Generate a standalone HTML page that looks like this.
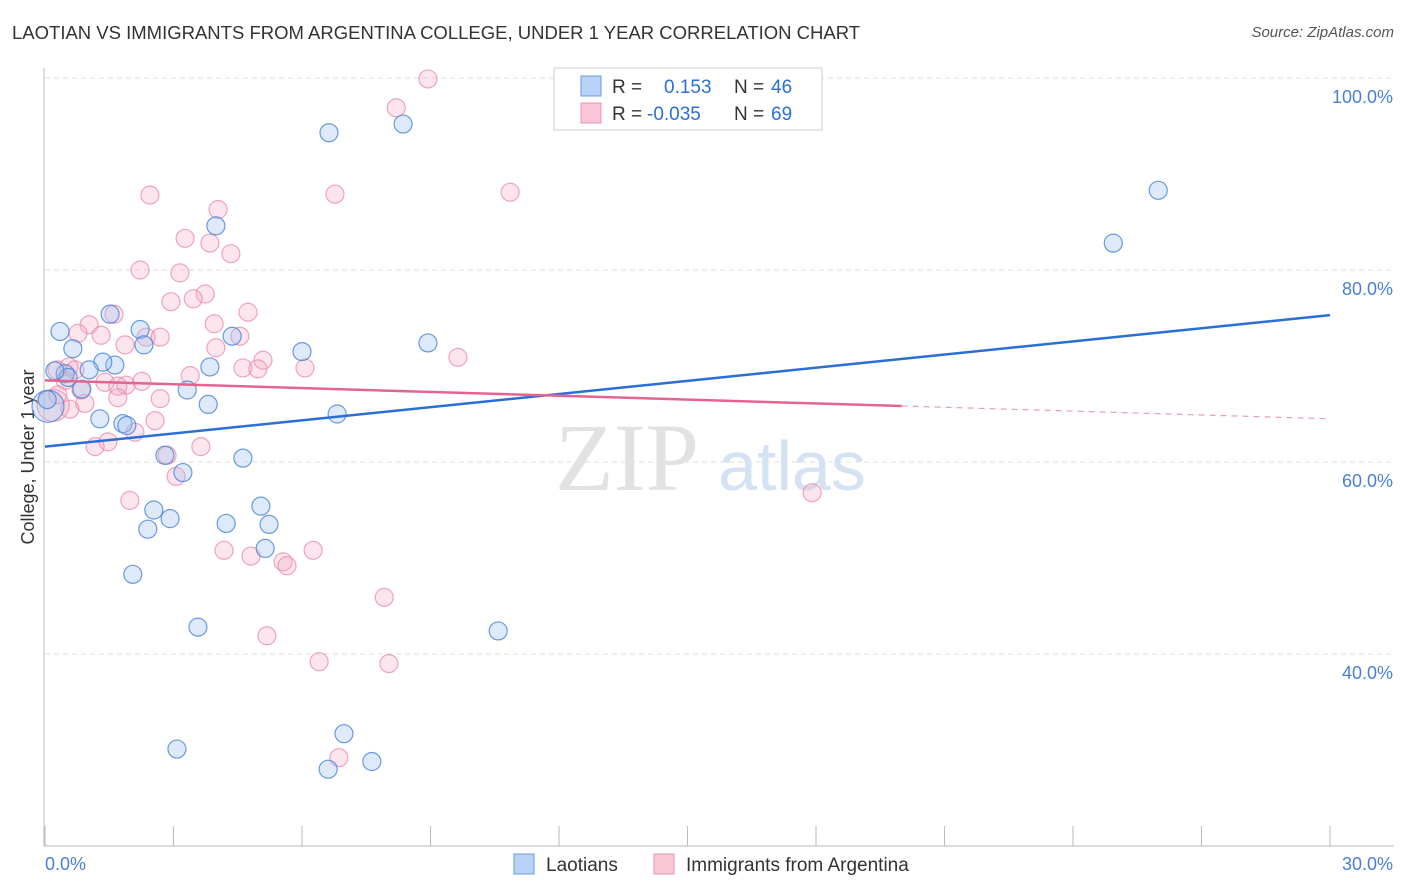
<!DOCTYPE html>
<html><head><meta charset="utf-8">
<style>
body{margin:0;background:#fff;font-family:"Liberation Sans",sans-serif;}
#wrap{position:relative;width:1406px;height:892px;overflow:hidden;}
.title{position:absolute;left:12px;top:22px;font-size:18.5px;color:#333;}
.source{position:absolute;right:12px;top:24px;font-size:15px;color:#555;font-style:italic;}
</style></head><body>
<div id="wrap">
<div class="title">LAOTIAN VS IMMIGRANTS FROM ARGENTINA COLLEGE, UNDER 1 YEAR CORRELATION CHART</div>
<div class="source">Source: ZipAtlas.com</div>
<svg id="svg" width="1406" height="892" style="position:absolute;left:0;top:0"></svg>
</div>
<script>
const blueX=[0.35,0.65,1.63,1.35,1.03,0.47,0.86,1.52,2.22,2.31,1.28,1.82,1.91,2.80,3.22,3.32,3.85,3.81,4.37,4.62,3.99,6.00,6.63,8.36,8.94,6.82,2.54,2.92,2.40,4.23,5.04,5.23,5.14,2.05,3.57,10.58,3.08,6.98,6.61,7.63,25.99,24.94,0.07,0.54,0.23,0.05];
const blueY=[73.6,71.8,70.1,70.4,69.6,69.2,67.6,75.4,73.8,72.2,64.5,64.0,63.8,60.7,58.9,67.5,69.9,66.0,73.1,60.4,84.6,71.5,94.3,95.2,72.4,65.0,55.0,54.1,53.0,53.6,55.4,53.5,51.0,48.3,42.8,42.4,30.1,31.7,28.0,28.8,88.3,82.8,65.8,68.8,69.5,66.5];
const pinkX=[8.94,8.20,6.77,2.45,10.86,4.04,3.27,3.85,4.34,2.22,3.15,3.74,3.46,2.94,4.74,1.61,1.03,3.95,0.77,1.31,2.36,2.69,4.55,1.87,3.99,9.64,5.09,4.62,4.97,6.07,3.39,0.56,0.28,1.40,1.89,1.70,2.26,2.69,1.70,0.93,0.58,2.57,2.10,1.47,1.17,3.64,3.06,2.85,1.98,17.91,4.18,4.81,5.56,5.65,6.26,7.92,5.18,6.40,8.03,6.86,0.19,0.47,0.70,0.30,0.84];
const pinkY=[99.9,96.9,87.9,87.8,88.1,86.3,83.3,82.8,81.7,80.0,79.7,77.5,77.0,76.7,75.6,75.4,74.3,74.4,73.4,73.2,73.0,73.0,73.1,72.2,71.9,70.9,70.6,69.8,69.7,69.8,69.0,69.9,69.6,68.3,68.0,67.9,68.4,66.6,66.7,66.1,65.5,64.3,63.1,62.1,61.6,61.6,58.5,60.7,56.0,56.8,50.8,50.2,49.6,49.2,50.8,45.9,41.9,39.2,39.0,29.2,65.9,68.5,69.6,67.0,67.5];
const blueLine=[61.6,75.3];
const pinkLine=[68.5,64.5];
const pinkSolidEnd=20.0;
const yTicks=[100,80,60,40];
const yTickLabels=["100.0%","80.0%","60.0%","40.0%"];

const sx=v=>45+v/30*1285;
const sy=v=>1038-v*9.6;
const svg=document.getElementById('svg');
const NS='http://www.w3.org/2000/svg';
function mk(tag,at){const e=document.createElementNS(NS,tag);for(const k in at)e.setAttribute(k,at[k]);svg.appendChild(e);return e;}

yTicks.forEach((t,i)=>{
  const g=mk('line',{x1:45,x2:1394,y1:sy(t),y2:sy(t),stroke:'#ddd','stroke-dasharray':'5,4'});
  
  
  const tx=mk('text',{x:1393,y:sy(t)+25,'text-anchor':'end','font-size':18,fill:'#4a7fd6','font-family':'Liberation Sans, sans-serif'});
  tx.textContent=yTickLabels[i];
  
  
});
let ax=mk('line',{x1:44,x2:44,y1:68,y2:846,stroke:'#bbb'});


ax=mk('line',{x1:44,x2:1394,y1:846,y2:846,stroke:'#bbb'});


for(let i=0;i<=10;i++){
  const t=mk('line',{x1:sx(i*3),x2:sx(i*3),y1:826,y2:846,stroke:'#bbb'});
  
  
}
[['0.0%',45,'start'],['30.0%',1393,'end']].forEach(a=>{
  const t=mk('text',{x:a[1],y:870,'text-anchor':a[2],'font-size':18,fill:'#4a7fd6','font-family':'Liberation Sans, sans-serif'});
  t.textContent=a[0];
  
  
});
const yl=mk('text',{x:34,y:457,transform:'rotate(-90 34 457)','text-anchor':'middle','font-size':18,fill:'#333','font-family':'Liberation Sans, sans-serif'});
yl.textContent='College, Under 1 year';


const wm=mk('text',{x:555,y:490,'font-size':96,fill:'#e2e2e2','font-family':'Liberation Serif, serif'});
wm.textContent='ZIP';


const wm2=mk('text',{x:718,y:490,'font-size':70,fill:'#d4e2f4','font-family':'Liberation Sans, sans-serif'});
wm2.textContent='atlas';



pinkX.forEach((x,i)=>{
  const big=i===60;
  const c=mk('circle',{cx:sx(x),cy:sy(pinkY[i]),r:big?16:9,fill:'rgba(244,170,196,0.3)',stroke:'rgba(232,130,165,0.7)','stroke-width':1.2});
  
  
});
blueX.forEach((x,i)=>{
  const big=i===42;
  const c=mk('circle',{cx:sx(x),cy:sy(blueY[i]),r:big?16:9,fill:'rgba(160,196,240,0.35)',stroke:'rgba(70,130,215,0.8)','stroke-width':1.2});
  
  
});
const pAt=x=>pinkLine[0]+(pinkLine[1]-pinkLine[0])*x/30;
let l=mk('line',{x1:sx(0),y1:sy(blueLine[0]),x2:sx(30),y2:sy(blueLine[1]),stroke:'#2a6fd6','stroke-width':2.5});


l=mk('line',{x1:sx(0),y1:sy(pAt(0)),x2:sx(pinkSolidEnd),y2:sy(pAt(pinkSolidEnd)),stroke:'#e5648f','stroke-width':2.5});


l=mk('line',{x1:sx(pinkSolidEnd),y1:sy(pAt(pinkSolidEnd)),x2:sx(30),y2:sy(pAt(30)),stroke:'#e5a0b8','stroke-width':1.2,'stroke-dasharray':'6,5'});



const lg=mk('rect',{x:554,y:68,width:268,height:62,fill:'#fff',stroke:'#ccc'});


[[0,'#b8d3f5','#6a9be0','0.153','46',664],[1,'#f9c6d6','#e994b2','-0.035','69',647]].forEach(r=>{
  const y=76+r[0]*27;
  const s=mk('rect',{x:581,y:y,width:20,height:20,fill:r[1],stroke:r[2]});
  
  
  const t=mk('text',{x:612,y:y+17,'font-size':19,fill:'#333','font-family':'Liberation Sans, sans-serif'});
  t.innerHTML='R = <tspan x="'+r[5]+'" fill="#2a6fd6">'+r[3]+'</tspan><tspan x="734">N = </tspan><tspan x="771" fill="#2a6fd6">'+r[4]+'</tspan>';
  
  
});
[[514,'#b8d3f5','#6a9be0','Laotians'],[654,'#f9c6d6','#e994b2','Immigrants from Argentina']].forEach(r=>{
  const s=mk('rect',{x:r[0],y:854,width:20,height:20,fill:r[1],stroke:r[2]});
  
  
  const t=mk('text',{x:r[0]+32,y:871,'font-size':19,fill:'#333','font-family':'Liberation Sans, sans-serif'});
  t.textContent=r[3];
  
  
});
</script>
</body></html>
